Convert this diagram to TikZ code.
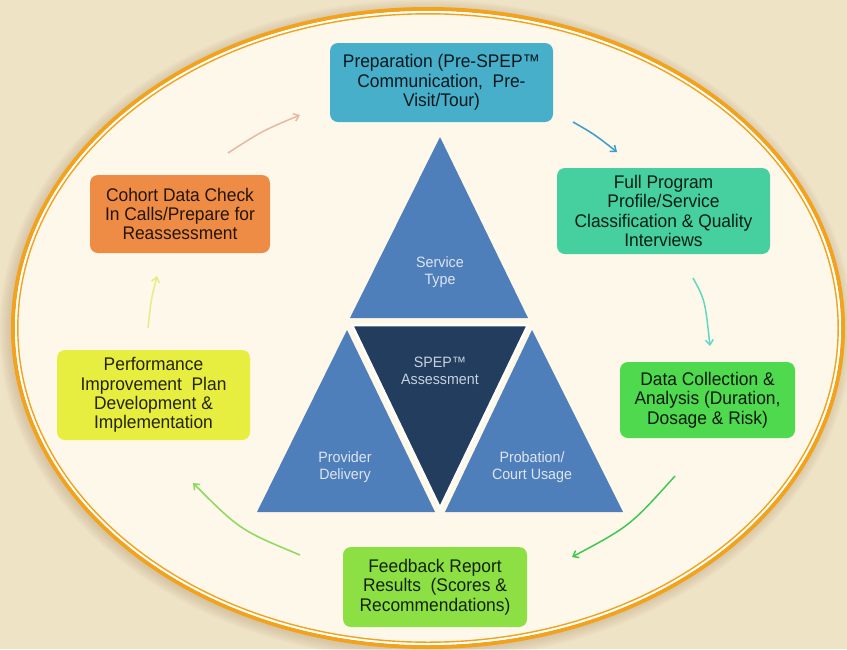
\documentclass[tikz,border=0pt]{standalone}
\usepackage{fontspec}
\setmainfont[FakeStretch=0.95]{Liberation Sans}
\usetikzlibrary{arrows.meta}

\definecolor{paper}{HTML}{EFE3C6}
\definecolor{paperdark}{HTML}{B8A079}
\definecolor{cream}{HTML}{FDF8EA}
\definecolor{rim}{HTML}{F2A31B}
\definecolor{prepc}{HTML}{48AFCB}
\definecolor{fullc}{HTML}{46CF9F}
\definecolor{datac}{HTML}{4FD94F}
\definecolor{feedc}{HTML}{8CE044}
\definecolor{perfc}{HTML}{E8EE40}
\definecolor{cohc}{HTML}{EE8C45}
\definecolor{triblue}{HTML}{4F7FBA}
\definecolor{trinavy}{HTML}{223D5E}
\definecolor{tritext}{HTML}{DDE5F0}

\tikzset{
  stepbox/.style={rounded corners=8pt, align=center, inner sep=0pt,
    font=\fontsize{18.3}{19.3}\selectfont},
  tri/.style={fill=triblue},
  trilabel/.style={align=center, text=tritext, font=\fontsize{15}{16.7}\selectfont},
  flow/.style={line width=1.5pt, -{Straight Barb[length=5pt,width=8pt]}}
}

\begin{document}
\begin{tikzpicture}[x=1pt,y=-1pt]
\useasboundingbox (0,0) rectangle (847,649);
\fill[paper] (0,0) rectangle (847,649);

% soft shadow round the oval
\foreach \i in {1,...,9}
  \fill[paperdark, opacity=0.05]
    (426,330) ellipse [x radius=415+1.3*\i, y radius=319+1.3*\i];

% the oval with its double rim
\fill[cream] (428,328) ellipse [x radius=415, y radius=319];
\draw[rim, line width=4pt] (428,328) ellipse [x radius=415, y radius=319];
\draw[white, line width=2pt] (428,328) ellipse [x radius=412, y radius=316];
\draw[rim, line width=1.4pt] (428,328) ellipse [x radius=410.2, y radius=314.2];

% central triangle
\fill[tri] (440,137) -- (528,318) -- (350,318) -- cycle;
\fill[tri] (347,330) -- (435,512) -- (257,512) -- cycle;
\fill[tri] (532,330) -- (623,512) -- (445,512) -- cycle;
\filldraw[fill=trinavy, draw=white, line width=2.5pt, line join=round]
  (352,325) -- (528,325) -- (440,508) -- cycle;

\node[trilabel] (service)   at (440,272) {Service\\Type};
\node[trilabel, text=tritext!88!trinavy] (assess) at (440,371) {SPEP™\\Assessment};
\node[trilabel] (provider)  at (345,467) {Provider\\Delivery};
\node[trilabel] (probation) at (532,467) {Probation/\\Court Usage};

% process steps
\node[stepbox, fill=prepc, text=prepc!14!black, minimum width=223pt, minimum height=79pt]
  (prep) at (441.5,82.5) {Preparation (Pre-SPEP™\\Communication,\ \ Pre-\\Visit/Tour)};
\node[stepbox, fill=fullc, text=fullc!14!black, minimum width=213pt, minimum height=86pt]
  (full) at (663.5,211) {Full Program\\Profile/Service\\Classification \& Quality\\Interviews};
\node[stepbox, fill=datac, text=datac!12!black, minimum width=175pt, minimum height=76pt]
  (data) at (707.5,400) {Data Collection \&\\Analysis (Duration,\\Dosage \& Risk)};
\node[stepbox, fill=feedc, text=feedc!15!black, minimum width=184pt, minimum height=80pt]
  (feed) at (435,587) {Feedback Report\\Results\ \ (Scores \&\\Recommendations)};
\node[stepbox, fill=perfc, text=perfc!15!black, minimum width=193pt, minimum height=90pt]
  (perf) at (153.5,395) {Performance\\Improvement\ \ Plan\\Development \&\\Implementation};
\node[stepbox, fill=cohc, text=cohc!15!black, minimum width=180pt, minimum height=78pt]
  (coh) at (180,214) {Cohort Data Check\\In Calls/Prepare for\\Reassessment};

% arrow end points between the steps
\coordinate (a1s) at (573,122);  \coordinate (a1e) at (617,152);
\coordinate (a2s) at (693,278);  \coordinate (a2e) at (710,346);
\coordinate (a3s) at (675,476);  \coordinate (a3e) at (572,557);
\coordinate (a4s) at (300,555);  \coordinate (a4e) at (193,483);
\coordinate (a5s) at (148,328);  \coordinate (a5e) at (157,276);
\coordinate (a6s) at (228,153);  \coordinate (a6e) at (300,115);

\draw[flow, color={rgb,255:red,58;green,156;blue,207}] (a1s) .. controls (594,134) .. (a1e);
\draw[flow, color={rgb,255:red,98;green,216;blue,196}] (a2s) .. controls (705,300) .. (a2e);
\draw[flow, color={rgb,255:red,64;green,200;blue,84}]  (a3s) .. controls (630,526) .. (a3e);
\draw[flow, color={rgb,255:red,140;green,216;blue,96}] (a4s) .. controls (240,530) .. (a4e);
\draw[flow, color={rgb,255:red,220;green,236;blue,110}, opacity=0.8] (a5s) .. controls (151,300) .. (a5e);
\draw[flow, color={rgb,255:red,232;green,184;blue,160}] (a6s) .. controls (262,131) .. (a6e);
\end{tikzpicture}
\end{document}
